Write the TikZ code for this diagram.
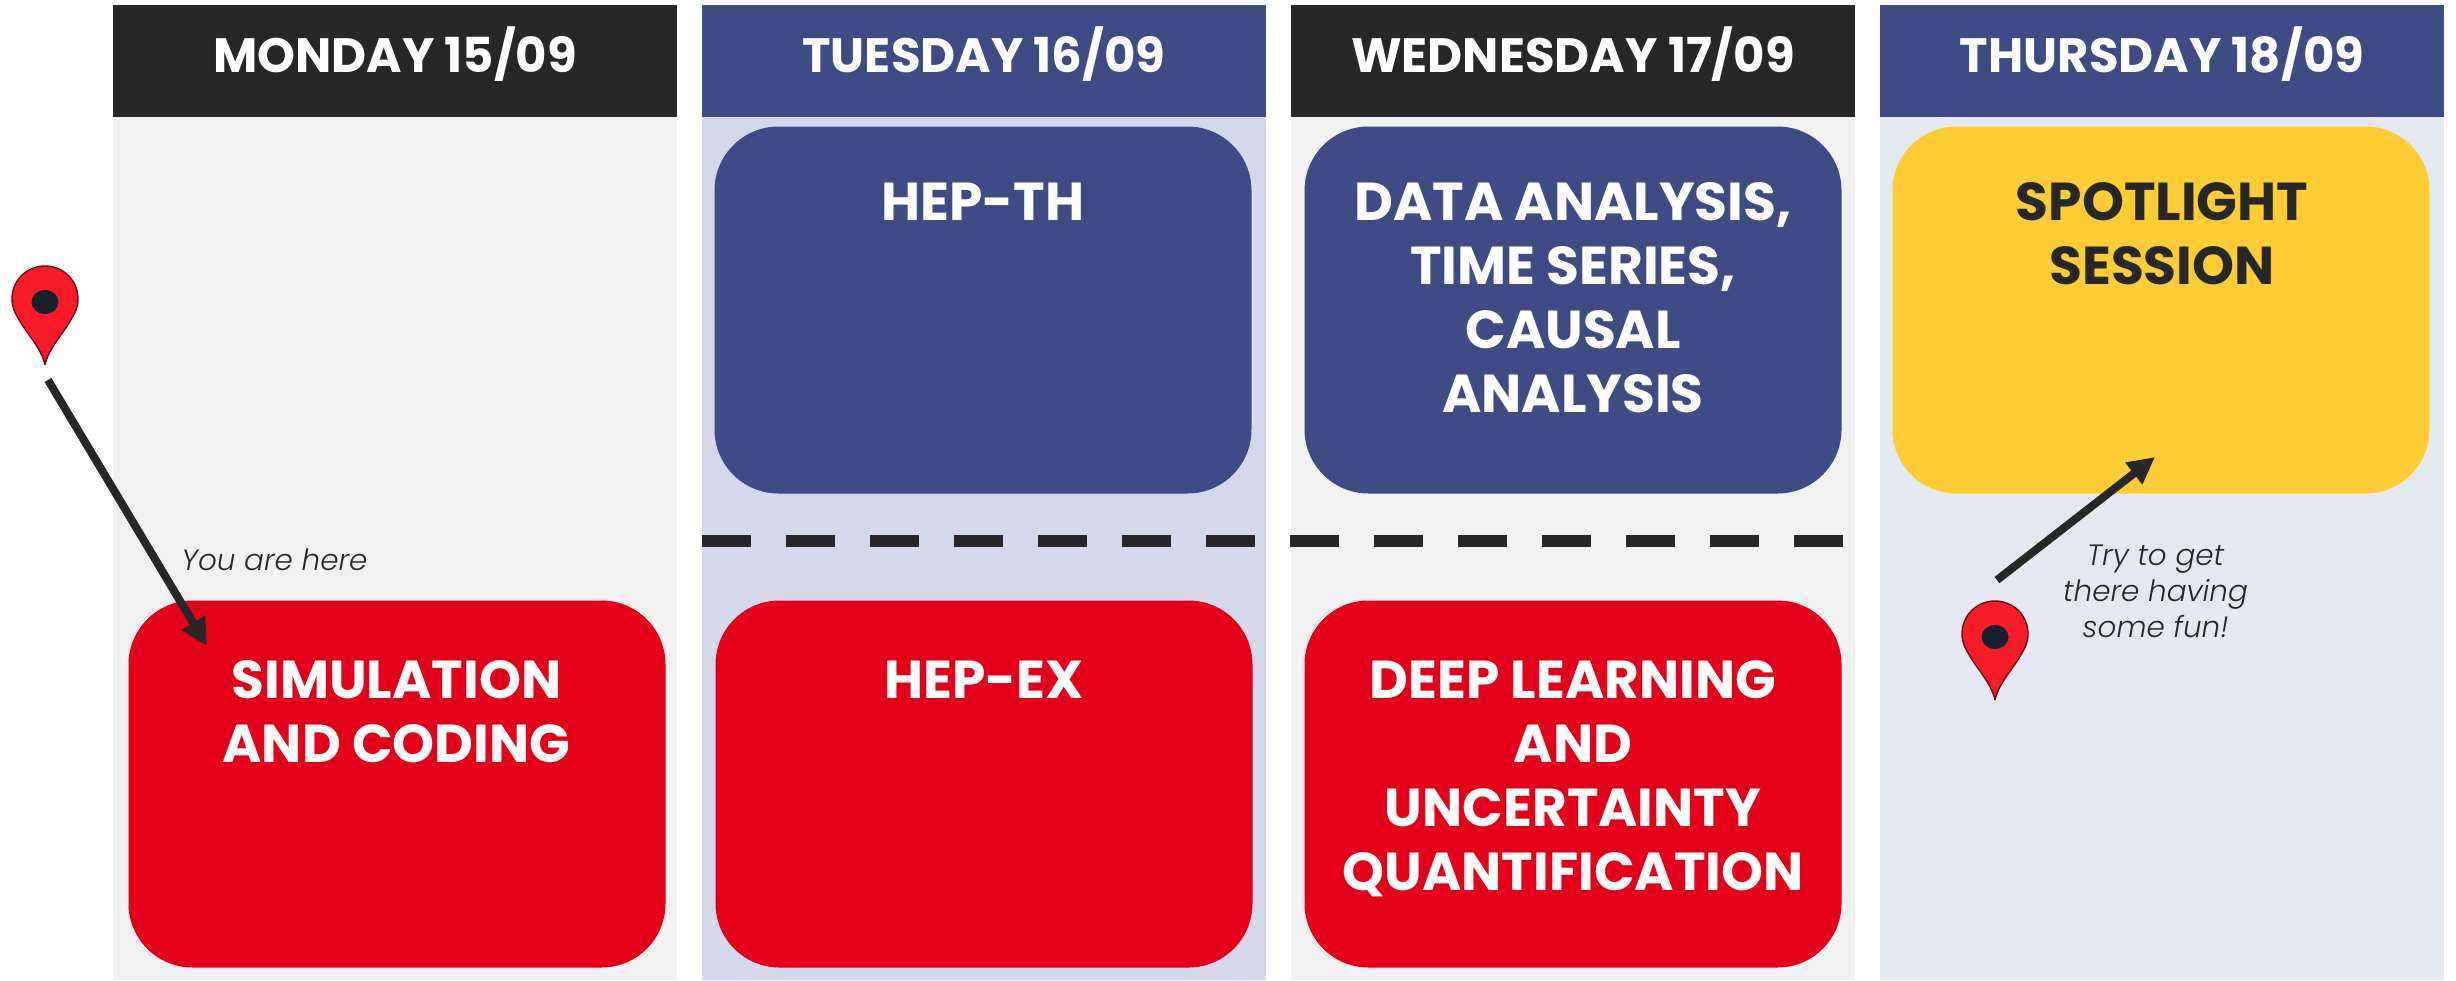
\documentclass[tikz,border=0pt]{standalone}
\usepackage{fontspec}
\setmainfont{Poppins}
\newfontface\lightit{Poppins Light Italic}
\usetikzlibrary{arrows.meta}
\definecolor{dark}{HTML}{272727}
\definecolor{navy}{HTML}{3F4B85}
\definecolor{lightnavy}{HTML}{D3D8EB}
\definecolor{greybg}{HTML}{F1F1F1}
\definecolor{paleblue}{HTML}{E4E9F1}
\definecolor{redbox}{HTML}{E5001A}
\definecolor{yellowbox}{HTML}{FFCC33}
\definecolor{pinred}{HTML}{F91C27}
\definecolor{pinedge}{HTML}{6E0A12}
\definecolor{pineye}{HTML}{13222D}
\tikzset{
  x=0.5pt,y=-0.5pt,
  colbody/.style={rectangle,inner sep=0pt,minimum width=282pt,minimum height=431.5pt},
  header/.style={rectangle,inner sep=0pt,minimum width=282pt,minimum height=56pt,text=white,text height=12.5pt,text depth=1pt,font=\bfseries\fontsize{24.1}{30}\selectfont},
  session/.style={rectangle,inner sep=0pt,minimum width=268.5pt,minimum height=183.5pt,rounded corners=32pt},
  sessiontext/.style={anchor=north,align=center,inner sep=0pt,text=white,font=\bfseries\fontsize{26.7}{32}\selectfont},
  note/.style={inner sep=0pt,text=dark,font=\lightit\fontsize{14.7}{18}\selectfont,align=center},
  pointer/.style={draw=dark,line width=4pt,-{Triangle[length=13.5pt,width=13pt]}},
  breakline/.style={draw=dark,line width=6.25pt,dash pattern=on 24.3pt off 17.7pt},
  pinmark/.pic={
    \path[fill=pinred,draw=pinedge,line width=0.7pt,miter limit=2]
      (0,99) .. controls (-3,84) and (-16,70) .. (-24,57)
      .. controls (-30,47) and (-33,42) .. (-33,33)
      .. controls (-33,14) and (-18,0) .. (0,0)
      .. controls (18,0) and (33,14) .. (33,33)
      .. controls (33,42) and (30,47) .. (24,57)
      .. controls (16,70) and (3,84) .. (0,99) -- cycle;
    \path[fill=pineye] (0,36) ellipse [x radius=13.5,y radius=12];
  }
}
\begin{document}
\begin{tikzpicture}
\useasboundingbox (0,0) rectangle (2456,980);
% columns
\node[colbody,fill=greybg] (bodyA) at (395,548.5) {};
\node[colbody,fill=lightnavy] (bodyB) at (984,548.5) {};
\node[colbody,fill=greybg] (bodyC) at (1573,548.5) {};
\node[colbody,fill=paleblue] (bodyD) at (2162,548.5) {};
% headers
\node[header,fill=dark] (headA) at (395,61) {MONDAY 15/09};
\node[header,fill=navy] (headB) at (984,61) {TUESDAY 16/09};
\node[header,fill=dark] (headC) at (1573,61) {WEDNESDAY 17/09};
\node[header,fill=navy] (headD) at (2162,61) {THURSDAY 18/09};
% upper sessions
\node[session,fill=navy] (boxBtop) at (983,310) {};
\node[session,fill=navy] (boxCtop) at (1573,310) {};
\node[session,fill=yellowbox] (boxDtop) at (2161,310) {};
% lower sessions
\node[session,fill=redbox] (boxAlow) at (397,784) {};
\node[session,fill=redbox] (boxBlow) at (984,784) {};
\node[session,fill=redbox] (boxClow) at (1573,784) {};
% session texts
\node[sessiontext] (txtBtop) at (983,182.5) {HEP-TH};
\node[sessiontext] (txtCtop) at (1573,182.5) {DATA ANALYSIS,\\TIME SERIES,\\CAUSAL\\ANALYSIS};
\node[sessiontext,text=dark] (txtDtop) at (2162,182.5) {SPOTLIGHT\\SESSION};
\node[sessiontext] (txtAlow) at (396.5,660.5) {SIMULATION\\AND CODING};
\node[sessiontext] (txtBlow) at (984,660.5) {HEP-EX};
\node[sessiontext] (txtClow) at (1573,660.5) {DEEP LEARNING\\AND\\UNCERTAINTY\\QUANTIFICATION};
% dashed separator
\coordinate (dashL) at (702,541);
\coordinate (dashR) at (1843,541);
\draw[breakline] (dashL) -- (dashR);
% pins
\pic at (45,266) {pinmark};
\pic at (1995,601) {pinmark};
% arrows
\coordinate (arrAstart) at (48,380);
\coordinate (arrAend) at (207,646);
\coordinate (arrBstart) at (1997,580);
\coordinate (arrBend) at (2155,457);
\draw[pointer] (arrAstart) -- (arrAend);
\draw[pointer] (arrBstart) -- (arrBend);
% notes
\node[note,anchor=base] (noteA) at (274.5,570) {You are here};
\node[note,anchor=north] (noteB) at (2155.5,544.5) {Try to get\\there having\\some fun!};
\end{tikzpicture}
\end{document}
